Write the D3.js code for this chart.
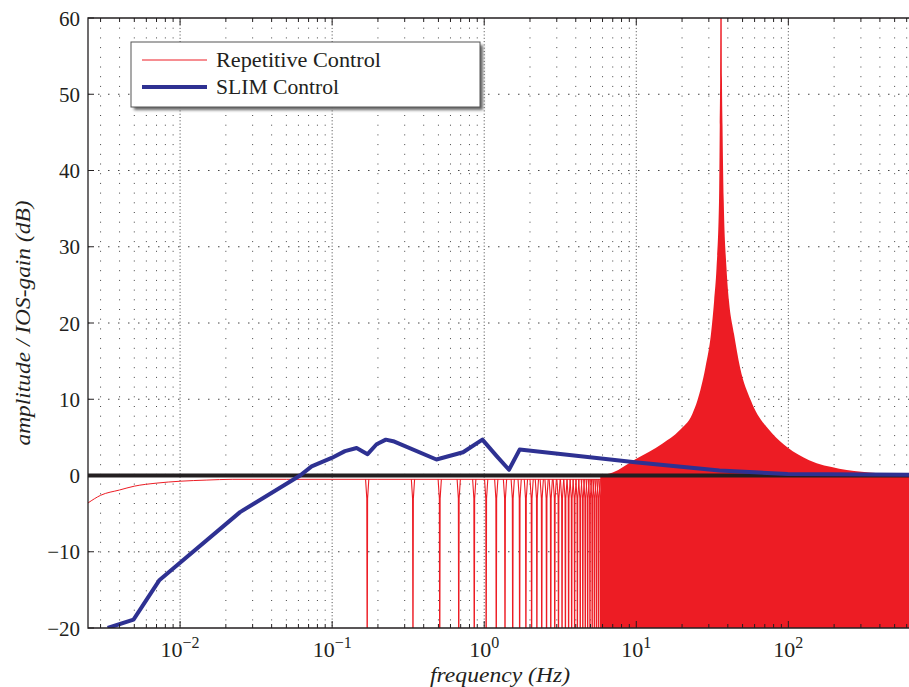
<!DOCTYPE html>
<html>
<head>
<meta charset="utf-8">
<script src="https://cdn.jsdelivr.net/npm/d3@7"></script>
<style>
  body { margin: 0; background: #fff; }
  svg { display: block; }
  text { font-family: "Liberation Serif", "DejaVu Serif", serif; fill: #231f20; }
</style>
</head>
<body>
<svg id="svg"></svg>
<script>
// Global variables
let svg = d3.select("#svg");
const width = 909;
const height = 687;

// Axis ticks
const xTickExps = [-2, -1, 0, 1, 2];
const yTicks = [-20, -10, 0, 10, 20, 30, 40, 50, 60];

// Repetitive control: low-frequency baseline (Hz, dB)
const repBaseFreq = [0.00248, 0.003, 0.004, 0.005, 0.007, 0.01, 0.015, 0.022, 0.05, 0.2, 1, 6.2];
const repBaseDb = [-3.6, -2.6, -1.9, -1.4, -1.0, -0.75, -0.6, -0.5, -0.5, -0.5, -0.5, -0.5];

// Repetitive control: notch frequencies (Hz) that can still be told apart
const repNotchFreq = [0.17, 0.34, 0.51, 0.68, 0.86, 1.03, 1.2, 1.37, 1.54, 1.71,
    1.88, 2.05, 2.22, 2.39, 2.57, 2.74, 2.91, 3.08, 3.25, 3.42,
    3.59, 3.76, 3.93, 4.1, 4.28, 4.45, 4.62, 4.79, 4.96, 5.13,
    5.3, 5.47, 5.64, 5.81, 5.99, 6.16];

// Repetitive control: upper envelope of the dense notch region (Hz, dB)
const repEnvFreq = [5.8, 7.0, 9.8, 14.9, 19.2, 23.4, 25.2, 28.5, 31.0, 32.5, 33.7, 35.0, 35.4, 35.6, 35.9,
    36.2, 36.6, 36.9, 37.6, 39.2, 40.7, 43.9, 48.1, 56.8, 78.4, 98.4, 137, 216, 340, 631];
const repEnvDb = [0.0, 0.4, 2.1, 4.2, 5.9, 8.1, 9.8, 14.2, 18.6, 22.9, 27.2, 36, 46, 52, 75,
    75, 52, 46, 36, 27.2, 22.9, 18.6, 14.2, 9.8, 5.5, 3.7, 2.0, 0.9, 0.4, 0.1];

// SLIM control (Hz, dB)
const slimFreq = [0.00334, 0.00494, 0.00733, 0.0248, 0.0615, 0.0733, 0.0993, 0.1214, 0.1448, 0.171,
    0.196, 0.2255, 0.252, 0.485, 0.726, 0.973, 1.2, 1.455, 1.71, 9.83, 35.2, 98.8, 631];
const slimDb = [-20, -18.9, -13.7, -4.8, 0, 1.2, 2.3, 3.2, 3.6, 2.8,
    4.1, 4.7, 4.5, 2.1, 3.05, 4.7, 2.6, 0.75, 3.4, 1.75, 0.65, 0.2, 0.1];

const legendLabels = ["Repetitive Control", "SLIM Control"];

const red = "#ed1c24";
const blue = "#2e3192";
const ink = "#231f20";

const plot = { left: 88, top: 18, right: 910, bottom: 628 };

let x = d3.scaleLog().domain([0.00248, 631]).range([plot.left, plot.right]);
let y = d3.scaleLinear().domain([-20, 60]).range([plot.bottom, plot.top]);

function zip(a, b) {
    return a.map((v, i) => [v, b[i]]);
}

function minus(v) {
    return v < 0 ? "\u2212" + Math.abs(v) : String(v);
}

function drawChart() {
    svg.attr("width", width).attr("height", height);

    svg.append("clipPath").attr("id", "clip")
        .append("rect")
        .attr("x", plot.left).attr("y", plot.top)
        .attr("width", plot.right - plot.left).attr("height", plot.bottom - plot.top);

    const defs = svg.append("defs");
    defs.append("filter").attr("id", "shadow")
        .append("feGaussianBlur").attr("stdDeviation", 1.4);

    // grid
    const allX = x.ticks().filter(v => v >= x.domain()[0] && v <= x.domain()[1]);
    const isMajor = d => Math.abs(Math.log10(d) - Math.round(Math.log10(d))) < 1e-9;
    const grid = svg.append("g");
    grid.selectAll("line.vx")
        .data(allX)
        .join("line")
        .attr("class", "vx")
        .attr("x1", d => x(d)).attr("x2", d => x(d))
        .attr("y1", plot.top).attr("y2", plot.bottom)
        .attr("stroke", "#444")
        .attr("stroke-width", 1)
        .attr("stroke-dasharray", d => isMajor(d) ? "1,2.3" : "1,8.7");
    grid.selectAll("line.hy")
        .data(yTicks.slice(1, -1))
        .join("line")
        .attr("class", "hy")
        .attr("x1", plot.left).attr("x2", plot.right)
        .attr("y1", d => y(d)).attr("y2", d => y(d))
        .attr("stroke", "#444")
        .attr("stroke-width", 1)
        .attr("stroke-dasharray", "1.5,8.5");

    const curves = svg.append("g").attr("clip-path", "url(#clip)");
    const line = d3.line().x(d => x(d[0])).y(d => y(d[1]));

    // red baseline
    curves.append("path")
        .datum(zip(repBaseFreq, repBaseDb))
        .attr("d", line.curve(d3.curveMonotoneX))
        .attr("fill", "none")
        .attr("stroke", red)
        .attr("stroke-width", 1);
    line.curve(d3.curveLinear);

    // red notches
    curves.selectAll("path.notch")
        .data(repNotchFreq)
        .join("path")
        .attr("class", "notch")
        .attr("d", f => line([[f / 1.025, -0.5], [f / 1.006, -3], [f, -30], [f * 1.006, -3], [f * 1.025, -0.5]]))
        .attr("fill", "none")
        .attr("stroke", red)
        .attr("stroke-width", 1.1);

    // dense region
    const area = d3.area()
        .x(d => x(d[0]))
        .y0(y(-20))
        .y1(d => y(d[1]))
        .curve(d3.curveMonotoneX);
    curves.append("path")
        .datum(zip(repEnvFreq, repEnvDb))
        .attr("d", area)
        .attr("fill", red);

    // 0 dB reference
    curves.append("line")
        .attr("x1", plot.left).attr("x2", plot.right)
        .attr("y1", y(0)).attr("y2", y(0))
        .attr("stroke", ink)
        .attr("stroke-width", 4);

    // SLIM
    curves.append("path")
        .datum(zip(slimFreq, slimDb))
        .attr("d", line)
        .attr("fill", "none")
        .attr("stroke", blue)
        .attr("stroke-width", 4)
        .attr("stroke-linejoin", "round");

    // frame
    const frame = svg.append("g");
    frame.append("path")
        .attr("d", `M${plot.right},${plot.top}H${plot.left}V${plot.bottom}H${plot.right}`)
        .attr("fill", "none")
        .attr("stroke", ink)
        .attr("stroke-width", 1.3);

    // x ticks, bottom and top
    frame.selectAll("line.xb")
        .data(allX)
        .join("line")
        .attr("class", "xb")
        .attr("x1", d => x(d)).attr("x2", d => x(d))
        .attr("y1", plot.bottom).attr("y2", d => plot.bottom - (isMajor(d) ? 7 : 4))
        .attr("stroke", ink);
    frame.selectAll("line.xt")
        .data(allX)
        .join("line")
        .attr("class", "xt")
        .attr("x1", d => x(d)).attr("x2", d => x(d))
        .attr("y1", plot.top).attr("y2", d => plot.top + (isMajor(d) ? 7 : 4))
        .attr("stroke", ink);

    // y ticks
    frame.selectAll("line.yt")
        .data(yTicks)
        .join("line")
        .attr("class", "yt")
        .attr("x1", plot.left).attr("x2", plot.left + 6)
        .attr("y1", d => y(d)).attr("y2", d => y(d))
        .attr("stroke", ink);

    svg.append("g").selectAll("text")
        .data(yTicks)
        .join("text")
        .attr("x", plot.left - 8)
        .attr("y", d => y(d))
        .attr("dy", "0.36em")
        .attr("text-anchor", "end")
        .style("font-size", "21px")
        .text(d => minus(d));

    const xl = svg.append("g").selectAll("text")
        .data(xTickExps)
        .join("text")
        .attr("x", d => x(Math.pow(10, d)))
        .attr("y", 657)
        .attr("text-anchor", "middle")
        .style("font-size", "22px");
    xl.append("tspan").text("10");
    xl.append("tspan")
        .attr("dy", -9)
        .style("font-size", "16px")
        .text(d => minus(d));

    // axis titles
    svg.append("text")
        .attr("x", 500).attr("y", 682)
        .attr("text-anchor", "middle")
        .attr("textLength", 140)
        .attr("lengthAdjust", "spacingAndGlyphs")
        .style("font-size", "22px")
        .style("font-style", "italic")
        .text("frequency (Hz)");
    svg.append("text")
        .attr("transform", "translate(30,323) rotate(-90)")
        .attr("text-anchor", "middle")
        .attr("textLength", 245)
        .attr("lengthAdjust", "spacingAndGlyphs")
        .style("font-size", "22px")
        .style("font-style", "italic")
        .text("amplitude / IOS-gain (dB)");

    // legend
    const lg = svg.append("g").attr("transform", "translate(131,42)");
    lg.append("rect")
        .attr("x", 3).attr("y", 3).attr("width", 349).attr("height", 65)
        .attr("fill", "#666")
        .attr("filter", "url(#shadow)");
    lg.append("rect")
        .attr("width", 349).attr("height", 65)
        .attr("fill", "#fff")
        .attr("stroke", "#555")
        .attr("stroke-width", 1);
    const entries = lg.selectAll("g.entry")
        .data(legendLabels)
        .join("g")
        .attr("class", "entry")
        .attr("transform", (d, i) => `translate(0,${18 + i * 27})`);
    entries.append("line")
        .attr("x1", 11).attr("x2", 76)
        .attr("stroke", (d, i) => i === 0 ? red : blue)
        .attr("stroke-width", (d, i) => i === 0 ? 1 : 4);
    entries.append("text")
        .attr("x", 85).attr("dy", "0.35em")
        .attr("textLength", (d, i) => i === 0 ? 165 : 123)
        .attr("lengthAdjust", "spacingAndGlyphs")
        .style("font-size", "21px")
        .text(d => d);
}

drawChart();
</script>
</body>
</html>
